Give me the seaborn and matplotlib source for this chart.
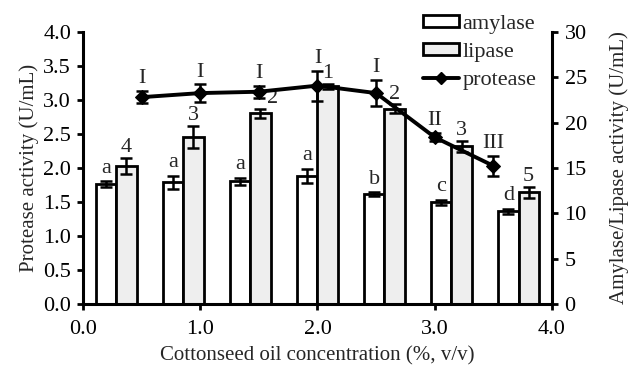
import numpy as np
import pandas as pd
import matplotlib
matplotlib.use("Agg")
import matplotlib.pyplot as plt
import seaborn as sns
from matplotlib.patches import Patch
from matplotlib.lines import Line2D

# ---- data ----
amylase = [13.2, 13.4, 13.5, 14.1, 12.1, 11.2, 10.2]
amylase_err = [0.3, 0.7, 0.4, 0.8, 0.2, 0.3, 0.3]
amylase_lab = ["a", "a", "a", "a", "b", "c", "d"]
lipase = [15.2, 18.4, 21.0, 24.0, 21.5, 17.4, 12.3]
lipase_err = [0.9, 1.2, 0.5, 0.3, 0.5, 0.6, 0.6]
lipase_lab = ["4", "3", "2", "1", "2", "3", "5"]
conc = [0.5, 1.0, 1.5, 2.0, 2.5, 3.0, 3.5]
protease = [3.04, 3.10, 3.12, 3.21, 3.10, 2.45, 2.03]
protease_err = [0.09, 0.13, 0.09, 0.22, 0.19, 0.06, 0.15]
protease_lab = ["I", "I", "I", "I", "I", "II", "III"]
xticks = [0.0, 1.0, 2.0, 3.0, 4.0]
yl_ticks = [0.0, 0.5, 1.0, 1.5, 2.0, 2.5, 3.0, 3.5, 4.0]
yr_ticks = [0, 5, 10, 15, 20, 25, 30]

sns.set_style("white")
plt.rcParams['font.family'] = ['Liberation Serif', 'DejaVu Serif']
FS_TICK = 16
FS_LAB = 15
FS_ANN = 16

fig = plt.figure(figsize=(6.28, 3.71), dpi=100)
ax = fig.add_axes([0.132, 0.181, 0.747, 0.733])
ax2 = ax.twinx()

n = len(amylase)
step = 4.0 / n
centers = (np.arange(n) + 0.5) * step
bw = 0.3 * step
lw = 2.0
ax2.bar(centers - bw / 2, amylase, width=bw, color="white", edgecolor="black", linewidth=lw, zorder=2)
ax2.bar(centers + bw / 2, lipase, width=bw, color="#eeeeee", edgecolor="black", linewidth=lw, zorder=2)
ax2.errorbar(centers - bw / 2, amylase, yerr=amylase_err, fmt="none", ecolor="black", elinewidth=1.8, capsize=4, capthick=1.8, zorder=3)
ax2.errorbar(centers + bw / 2, lipase, yerr=lipase_err, fmt="none", ecolor="black", elinewidth=1.8, capsize=4, capthick=1.8, zorder=3)
for i in range(n):
    ax2.text(centers[i] - bw / 2, amylase[i] + amylase_err[i] + 0.4, amylase_lab[i], ha="center", va="bottom", fontsize=FS_ANN)
    dx = 0.1 if i == 2 else 0.0
    ax2.text(centers[i] + bw / 2 + dx, lipase[i] + lipase_err[i] + 0.1, lipase_lab[i], ha="center", va="bottom", fontsize=FS_ANN)

ax.set_zorder(ax2.get_zorder() + 1)
ax.patch.set_visible(False)
df = pd.DataFrame({"conc": conc, "protease": protease})
sns.lineplot(data=df, x="conc", y="protease", ax=ax, color="black", linewidth=2.8,
             marker="D", markersize=7, markeredgecolor="black", zorder=4)
ax.errorbar(conc, protease, yerr=protease_err, fmt="none", ecolor="black", elinewidth=1.8, capsize=4, capthick=1.8, zorder=5)
for i in range(len(conc)):
    ax.text(conc[i], protease[i] + protease_err[i] + 0.04, protease_lab[i], ha="center", va="bottom", fontsize=FS_ANN)

ax.set_xlim(0, 4)
ax.set_ylim(0, 4)
ax2.set_ylim(0, 30)
ax.set_xticks(xticks)
ax.set_xticklabels([f"{v:.1f}" for v in xticks])
ax.set_yticks(yl_ticks)
ax.set_yticklabels([f"{v:.1f}" for v in yl_ticks])
ax2.set_yticks(yr_ticks)
ax.set_xlabel("Cottonseed oil concentration (%, v/v)", fontsize=FS_LAB, labelpad=5)
ax.set_ylabel("Protease activity (U/mL)", fontsize=FS_LAB, labelpad=3)
ax2.set_ylabel("Amylase/Lipase activity (U/mL)", fontsize=FS_LAB, labelpad=16)

for a in (ax, ax2):
    for s in a.spines.values():
        s.set_visible(False)
ax.spines["left"].set_visible(True)
ax.spines["bottom"].set_visible(True)
ax2.spines["right"].set_visible(True)
for s in (ax.spines["left"], ax.spines["bottom"], ax2.spines["right"]):
    s.set_linewidth(2.2)
    s.set_color("black")
ax.tick_params(axis="x", direction="out", length=4, width=2, labelsize=FS_TICK, pad=7.5,
               bottom=True, colors="black")
ax.tick_params(axis="y", direction="out", length=4, width=2, labelsize=FS_TICK, pad=4.5,
               left=True, colors="black")
ax2.tick_params(axis="y", direction="out", length=4, width=2, labelsize=FS_TICK, pad=5,
                right=True, colors="black")

handles = [Patch(facecolor="white", edgecolor="black", linewidth=2),
           Patch(facecolor="#eeeeee", edgecolor="black", linewidth=2),
           Line2D([0], [0], color="black", linewidth=2.8, marker="D", markersize=6)]
ax.legend(handles, ["amylase", "lipase", "protease"], loc="upper right",
          bbox_to_anchor=(0.985, 1.095), frameon=False, fontsize=FS_TICK,
          handlelength=1.6, handleheight=0.45, handletextpad=0.15, labelspacing=0.4,
          borderaxespad=0)

fig.savefig("out.png", dpi=100)
